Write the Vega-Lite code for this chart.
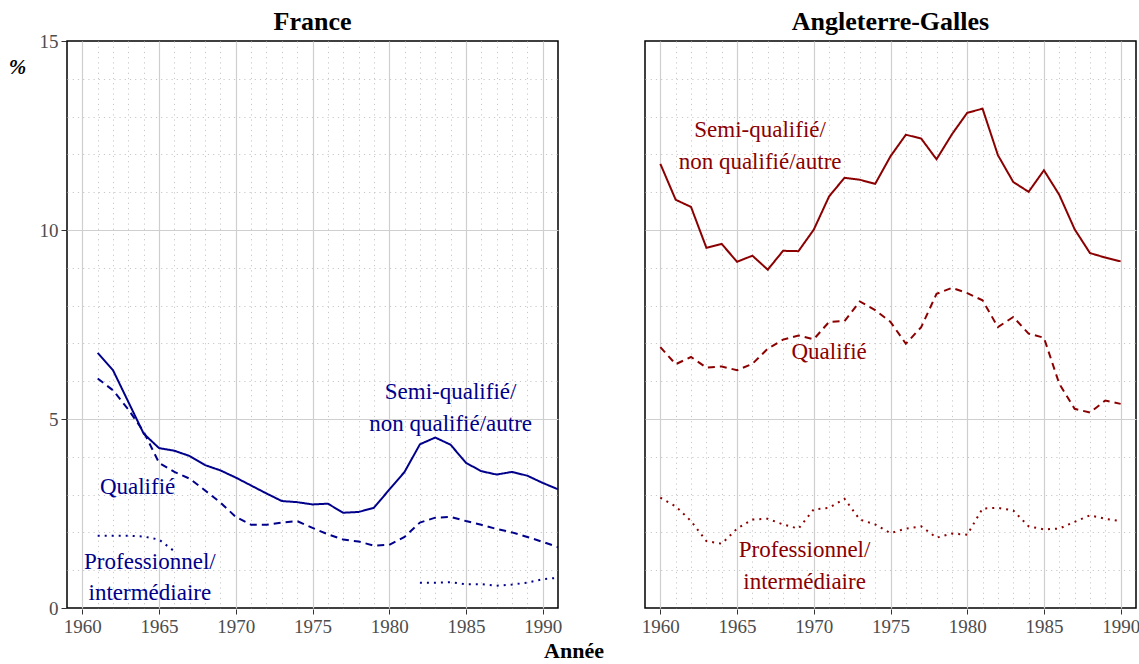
{
"$schema": "https://vega.github.io/schema/vega-lite/v6.json",
"background": "white",
"padding": {"left": 8, "top": 9, "right": 5, "bottom": 0},
"title": {"text": "Année", "orient": "bottom", "anchor": "middle", "fontSize": 22, "fontWeight": "bold", "font": "Liberation Serif", "color": "black", "offset": 5},
"data": {"values": [
{"p":"France","c":"S","g":"FS","x":1961,"y":6.75},{"p":"France","c":"S","g":"FS","x":1962,"y":6.29},{"p":"France","c":"S","g":"FS","x":1963,"y":5.45},{"p":"France","c":"S","g":"FS","x":1964,"y":4.61},{"p":"France","c":"S","g":"FS","x":1965,"y":4.23},{"p":"France","c":"S","g":"FS","x":1966,"y":4.16},{"p":"France","c":"S","g":"FS","x":1967,"y":4.02},{"p":"France","c":"S","g":"FS","x":1968,"y":3.78},{"p":"France","c":"S","g":"FS","x":1969,"y":3.64},{"p":"France","c":"S","g":"FS","x":1970,"y":3.45},{"p":"France","c":"S","g":"FS","x":1971,"y":3.24},{"p":"France","c":"S","g":"FS","x":1972,"y":3.03},{"p":"France","c":"S","g":"FS","x":1973,"y":2.83},{"p":"France","c":"S","g":"FS","x":1974,"y":2.80},{"p":"France","c":"S","g":"FS","x":1975,"y":2.74},{"p":"France","c":"S","g":"FS","x":1976,"y":2.76},{"p":"France","c":"S","g":"FS","x":1977,"y":2.52},{"p":"France","c":"S","g":"FS","x":1978,"y":2.54},{"p":"France","c":"S","g":"FS","x":1979,"y":2.65},{"p":"France","c":"S","g":"FS","x":1980,"y":3.13},{"p":"France","c":"S","g":"FS","x":1981,"y":3.60},{"p":"France","c":"S","g":"FS","x":1982,"y":4.33},{"p":"France","c":"S","g":"FS","x":1983,"y":4.51},{"p":"France","c":"S","g":"FS","x":1984,"y":4.32},{"p":"France","c":"S","g":"FS","x":1985,"y":3.84},{"p":"France","c":"S","g":"FS","x":1986,"y":3.62},{"p":"France","c":"S","g":"FS","x":1987,"y":3.53},{"p":"France","c":"S","g":"FS","x":1988,"y":3.60},{"p":"France","c":"S","g":"FS","x":1989,"y":3.50},{"p":"France","c":"S","g":"FS","x":1990,"y":3.31},{"p":"France","c":"S","g":"FS","x":1991,"y":3.14},
{"p":"France","c":"Q","g":"FQ","x":1961,"y":6.07},{"p":"France","c":"Q","g":"FQ","x":1962,"y":5.76},{"p":"France","c":"Q","g":"FQ","x":1963,"y":5.25},{"p":"France","c":"Q","g":"FQ","x":1964,"y":4.66},{"p":"France","c":"Q","g":"FQ","x":1965,"y":3.84},{"p":"France","c":"Q","g":"FQ","x":1966,"y":3.60},{"p":"France","c":"Q","g":"FQ","x":1967,"y":3.42},{"p":"France","c":"Q","g":"FQ","x":1968,"y":3.11},{"p":"France","c":"Q","g":"FQ","x":1969,"y":2.79},{"p":"France","c":"Q","g":"FQ","x":1970,"y":2.41},{"p":"France","c":"Q","g":"FQ","x":1971,"y":2.20},{"p":"France","c":"Q","g":"FQ","x":1972,"y":2.20},{"p":"France","c":"Q","g":"FQ","x":1973,"y":2.26},{"p":"France","c":"Q","g":"FQ","x":1974,"y":2.30},{"p":"France","c":"Q","g":"FQ","x":1975,"y":2.12},{"p":"France","c":"Q","g":"FQ","x":1976,"y":1.95},{"p":"France","c":"Q","g":"FQ","x":1977,"y":1.81},{"p":"France","c":"Q","g":"FQ","x":1978,"y":1.76},{"p":"France","c":"Q","g":"FQ","x":1979,"y":1.65},{"p":"France","c":"Q","g":"FQ","x":1980,"y":1.67},{"p":"France","c":"Q","g":"FQ","x":1981,"y":1.88},{"p":"France","c":"Q","g":"FQ","x":1982,"y":2.26},{"p":"France","c":"Q","g":"FQ","x":1983,"y":2.39},{"p":"France","c":"Q","g":"FQ","x":1984,"y":2.41},{"p":"France","c":"Q","g":"FQ","x":1985,"y":2.30},{"p":"France","c":"Q","g":"FQ","x":1986,"y":2.20},{"p":"France","c":"Q","g":"FQ","x":1987,"y":2.09},{"p":"France","c":"Q","g":"FQ","x":1988,"y":2.00},{"p":"France","c":"Q","g":"FQ","x":1989,"y":1.88},{"p":"France","c":"Q","g":"FQ","x":1990,"y":1.75},{"p":"France","c":"Q","g":"FQ","x":1991,"y":1.61},
{"p":"France","c":"P","g":"FP1","x":1961,"y":1.91},{"p":"France","c":"P","g":"FP1","x":1962,"y":1.91},{"p":"France","c":"P","g":"FP1","x":1963,"y":1.91},{"p":"France","c":"P","g":"FP1","x":1964,"y":1.89},{"p":"France","c":"P","g":"FP1","x":1965,"y":1.81},{"p":"France","c":"P","g":"FP1","x":1966,"y":1.50},
{"p":"France","c":"P","g":"FP2","x":1982,"y":0.67},{"p":"France","c":"P","g":"FP2","x":1983,"y":0.67},{"p":"France","c":"P","g":"FP2","x":1984,"y":0.68},{"p":"France","c":"P","g":"FP2","x":1985,"y":0.63},{"p":"France","c":"P","g":"FP2","x":1986,"y":0.63},{"p":"France","c":"P","g":"FP2","x":1987,"y":0.59},{"p":"France","c":"P","g":"FP2","x":1988,"y":0.62},{"p":"France","c":"P","g":"FP2","x":1989,"y":0.67},{"p":"France","c":"P","g":"FP2","x":1990,"y":0.76},{"p":"France","c":"P","g":"FP2","x":1991,"y":0.80},
{"p":"Angleterre-Galles","c":"S","g":"ES","x":1960,"y":11.75},{"p":"Angleterre-Galles","c":"S","g":"ES","x":1961,"y":10.80},{"p":"Angleterre-Galles","c":"S","g":"ES","x":1962,"y":10.61},{"p":"Angleterre-Galles","c":"S","g":"ES","x":1963,"y":9.53},{"p":"Angleterre-Galles","c":"S","g":"ES","x":1964,"y":9.63},{"p":"Angleterre-Galles","c":"S","g":"ES","x":1965,"y":9.16},{"p":"Angleterre-Galles","c":"S","g":"ES","x":1966,"y":9.32},{"p":"Angleterre-Galles","c":"S","g":"ES","x":1967,"y":8.95},{"p":"Angleterre-Galles","c":"S","g":"ES","x":1968,"y":9.45},{"p":"Angleterre-Galles","c":"S","g":"ES","x":1969,"y":9.44},{"p":"Angleterre-Galles","c":"S","g":"ES","x":1970,"y":10.01},{"p":"Angleterre-Galles","c":"S","g":"ES","x":1971,"y":10.89},{"p":"Angleterre-Galles","c":"S","g":"ES","x":1972,"y":11.38},{"p":"Angleterre-Galles","c":"S","g":"ES","x":1973,"y":11.33},{"p":"Angleterre-Galles","c":"S","g":"ES","x":1974,"y":11.22},{"p":"Angleterre-Galles","c":"S","g":"ES","x":1975,"y":11.95},{"p":"Angleterre-Galles","c":"S","g":"ES","x":1976,"y":12.52},{"p":"Angleterre-Galles","c":"S","g":"ES","x":1977,"y":12.42},{"p":"Angleterre-Galles","c":"S","g":"ES","x":1978,"y":11.87},{"p":"Angleterre-Galles","c":"S","g":"ES","x":1979,"y":12.53},{"p":"Angleterre-Galles","c":"S","g":"ES","x":1980,"y":13.10},{"p":"Angleterre-Galles","c":"S","g":"ES","x":1981,"y":13.21},{"p":"Angleterre-Galles","c":"S","g":"ES","x":1982,"y":11.98},{"p":"Angleterre-Galles","c":"S","g":"ES","x":1983,"y":11.27},{"p":"Angleterre-Galles","c":"S","g":"ES","x":1984,"y":11.01},{"p":"Angleterre-Galles","c":"S","g":"ES","x":1985,"y":11.58},{"p":"Angleterre-Galles","c":"S","g":"ES","x":1986,"y":10.93},{"p":"Angleterre-Galles","c":"S","g":"ES","x":1987,"y":10.02},{"p":"Angleterre-Galles","c":"S","g":"ES","x":1988,"y":9.39},{"p":"Angleterre-Galles","c":"S","g":"ES","x":1989,"y":9.27},{"p":"Angleterre-Galles","c":"S","g":"ES","x":1990,"y":9.17},
{"p":"Angleterre-Galles","c":"Q","g":"EQ","x":1960,"y":6.90},{"p":"Angleterre-Galles","c":"Q","g":"EQ","x":1961,"y":6.45},{"p":"Angleterre-Galles","c":"Q","g":"EQ","x":1962,"y":6.64},{"p":"Angleterre-Galles","c":"Q","g":"EQ","x":1963,"y":6.36},{"p":"Angleterre-Galles","c":"Q","g":"EQ","x":1964,"y":6.39},{"p":"Angleterre-Galles","c":"Q","g":"EQ","x":1965,"y":6.29},{"p":"Angleterre-Galles","c":"Q","g":"EQ","x":1966,"y":6.46},{"p":"Angleterre-Galles","c":"Q","g":"EQ","x":1967,"y":6.86},{"p":"Angleterre-Galles","c":"Q","g":"EQ","x":1968,"y":7.10},{"p":"Angleterre-Galles","c":"Q","g":"EQ","x":1969,"y":7.21},{"p":"Angleterre-Galles","c":"Q","g":"EQ","x":1970,"y":7.11},{"p":"Angleterre-Galles","c":"Q","g":"EQ","x":1971,"y":7.57},{"p":"Angleterre-Galles","c":"Q","g":"EQ","x":1972,"y":7.59},{"p":"Angleterre-Galles","c":"Q","g":"EQ","x":1973,"y":8.11},{"p":"Angleterre-Galles","c":"Q","g":"EQ","x":1974,"y":7.88},{"p":"Angleterre-Galles","c":"Q","g":"EQ","x":1975,"y":7.57},{"p":"Angleterre-Galles","c":"Q","g":"EQ","x":1976,"y":6.99},{"p":"Angleterre-Galles","c":"Q","g":"EQ","x":1977,"y":7.43},{"p":"Angleterre-Galles","c":"Q","g":"EQ","x":1978,"y":8.31},{"p":"Angleterre-Galles","c":"Q","g":"EQ","x":1979,"y":8.47},{"p":"Angleterre-Galles","c":"Q","g":"EQ","x":1980,"y":8.33},{"p":"Angleterre-Galles","c":"Q","g":"EQ","x":1981,"y":8.14},{"p":"Angleterre-Galles","c":"Q","g":"EQ","x":1982,"y":7.43},{"p":"Angleterre-Galles","c":"Q","g":"EQ","x":1983,"y":7.70},{"p":"Angleterre-Galles","c":"Q","g":"EQ","x":1984,"y":7.26},{"p":"Angleterre-Galles","c":"Q","g":"EQ","x":1985,"y":7.15},{"p":"Angleterre-Galles","c":"Q","g":"EQ","x":1986,"y":5.93},{"p":"Angleterre-Galles","c":"Q","g":"EQ","x":1987,"y":5.27},{"p":"Angleterre-Galles","c":"Q","g":"EQ","x":1988,"y":5.17},{"p":"Angleterre-Galles","c":"Q","g":"EQ","x":1989,"y":5.49},{"p":"Angleterre-Galles","c":"Q","g":"EQ","x":1990,"y":5.40},
{"p":"Angleterre-Galles","c":"P","g":"EP","x":1960,"y":2.92},{"p":"Angleterre-Galles","c":"P","g":"EP","x":1961,"y":2.69},{"p":"Angleterre-Galles","c":"P","g":"EP","x":1962,"y":2.30},{"p":"Angleterre-Galles","c":"P","g":"EP","x":1963,"y":1.77},{"p":"Angleterre-Galles","c":"P","g":"EP","x":1964,"y":1.70},{"p":"Angleterre-Galles","c":"P","g":"EP","x":1965,"y":2.10},{"p":"Angleterre-Galles","c":"P","g":"EP","x":1966,"y":2.34},{"p":"Angleterre-Galles","c":"P","g":"EP","x":1967,"y":2.36},{"p":"Angleterre-Galles","c":"P","g":"EP","x":1968,"y":2.21},{"p":"Angleterre-Galles","c":"P","g":"EP","x":1969,"y":2.10},{"p":"Angleterre-Galles","c":"P","g":"EP","x":1970,"y":2.61},{"p":"Angleterre-Galles","c":"P","g":"EP","x":1971,"y":2.65},{"p":"Angleterre-Galles","c":"P","g":"EP","x":1972,"y":2.89},{"p":"Angleterre-Galles","c":"P","g":"EP","x":1973,"y":2.34},{"p":"Angleterre-Galles","c":"P","g":"EP","x":1974,"y":2.21},{"p":"Angleterre-Galles","c":"P","g":"EP","x":1975,"y":1.98},{"p":"Angleterre-Galles","c":"P","g":"EP","x":1976,"y":2.10},{"p":"Angleterre-Galles","c":"P","g":"EP","x":1977,"y":2.16},{"p":"Angleterre-Galles","c":"P","g":"EP","x":1978,"y":1.86},{"p":"Angleterre-Galles","c":"P","g":"EP","x":1979,"y":1.97},{"p":"Angleterre-Galles","c":"P","g":"EP","x":1980,"y":1.94},{"p":"Angleterre-Galles","c":"P","g":"EP","x":1981,"y":2.63},{"p":"Angleterre-Galles","c":"P","g":"EP","x":1982,"y":2.65},{"p":"Angleterre-Galles","c":"P","g":"EP","x":1983,"y":2.58},{"p":"Angleterre-Galles","c":"P","g":"EP","x":1984,"y":2.16},{"p":"Angleterre-Galles","c":"P","g":"EP","x":1985,"y":2.08},{"p":"Angleterre-Galles","c":"P","g":"EP","x":1986,"y":2.10},{"p":"Angleterre-Galles","c":"P","g":"EP","x":1987,"y":2.28},{"p":"Angleterre-Galles","c":"P","g":"EP","x":1988,"y":2.45},{"p":"Angleterre-Galles","c":"P","g":"EP","x":1989,"y":2.36},{"p":"Angleterre-Galles","c":"P","g":"EP","x":1990,"y":2.30},
{"p":"France","x":1984,"y":5.71,"t":"Semi-qualifié/"},{"p":"France","x":1984,"y":4.87,"t":"non qualifié/autre"},{"p":"France","x":1963.6,"y":3.2,"t":"Qualifié"},{"p":"France","x":1964.4,"y":1.22,"t":"Professionnel/"},{"p":"France","x":1964.4,"y":0.4,"t":"intermédiaire"},
{"p":"Angleterre-Galles","x":1966.5,"y":12.65,"t":"Semi-qualifié/"},{"p":"Angleterre-Galles","x":1966.5,"y":11.8,"t":"non qualifié/autre"},{"p":"Angleterre-Galles","x":1971,"y":6.77,"t":"Qualifié"},{"p":"Angleterre-Galles","x":1969.4,"y":1.53,"t":"Professionnel/"},{"p":"Angleterre-Galles","x":1969.4,"y":0.69,"t":"intermédiaire"}
]},
"config": {
  "font": "Liberation Serif",
  "view": {"stroke": "black", "strokeWidth": 1.5},
  "axis": {"labelFont": "Liberation Serif", "labelFontSize": 19, "labelColor": "#4d4d4d", "titleFont": "Liberation Serif", "titleColor": "black", "titleFontWeight": "bold", "domain": false, "tickColor": "#333333", "tickSize": 5, "labelPadding": 3, "labelOverlap": false, "labelFlush": false},
  "header": {"labelFont": "Liberation Serif"}
},
"facet": {"column": {"field": "p", "type": "nominal", "sort": ["France", "Angleterre-Galles"], "title": null, "header": {"labelFontSize": 26, "labelFontWeight": "bold", "labelColor": "black", "labelPadding": 5}}},
"spacing": 85,
"spec": {
  "width": 491,
  "height": 567,
  "layer": [
    {"transform": [{"filter": "!datum.t"}],
     "mark": {"type": "line", "strokeWidth": 2, "strokeCap": "butt", "clip": true},
     "encoding": {
       "x": {"field": "x", "type": "quantitative", "title": null, "scale": {"domain": [1959, 1991], "nice": false, "zero": false},
         "axis": {"values": [1960,1961,1962,1963,1964,1965,1966,1967,1968,1969,1970,1971,1972,1973,1974,1975,1976,1977,1978,1979,1980,1981,1982,1983,1984,1985,1986,1987,1988,1989,1990], "tickCount": 200, "format": "d", "labelOverlap": false, "labelExpr": "datum.value % 5 === 0 ? datum.label : ''",
           "gridColor": {"condition": {"test": "datum.value % 5 === 0", "value": "#cfcfcf"}, "value": "#c8c8c8"},
           "gridDash": {"condition": {"test": "datum.value % 5 === 0", "value": []}, "value": [1.2, 4]},
           "gridWidth": {"condition": {"test": "datum.value % 5 === 0", "value": 1.2}, "value": 1},
           "tickOpacity": {"condition": {"test": "datum.value % 5 === 0", "value": 1}, "value": 0}}},
       "y": {"field": "y", "type": "quantitative", "title": "%", "scale": {"domain": [0, 15], "nice": false, "zero": true},
         "axis": {"values": [0,1,2,3,4,5,6,7,8,9,10,11,12,13,14,15], "tickCount": 200, "format": "d", "labelOverlap": false, "labelExpr": "datum.value % 5 === 0 ? datum.label : ''", "titleAngle": 0, "titleFontSize": 21, "titleFontStyle": "italic", "titleAlign": "center", "titleBaseline": "middle", "titleX": -49, "titleY": 26,
           "gridColor": {"condition": {"test": "datum.value % 5 === 0", "value": "#cfcfcf"}, "value": "#c8c8c8"},
           "gridDash": {"condition": {"test": "datum.value % 5 === 0", "value": []}, "value": [1.2, 4]},
           "gridWidth": {"condition": {"test": "datum.value % 5 === 0", "value": 1.2}, "value": 1},
           "gridOpacity": {"condition": {"test": "datum.value === 0 || datum.value === 15", "value": 0}, "value": 1},
           "tickOpacity": {"condition": {"test": "datum.value % 5 === 0", "value": 1}, "value": 0}}},
       "color": {"field": "p", "type": "nominal", "scale": {"domain": ["France", "Angleterre-Galles"], "range": ["#00008B", "#8B0000"]}, "legend": null},
       "strokeDash": {"field": "c", "type": "nominal", "scale": {"domain": ["S", "Q", "P"], "range": [[1, 0], [7, 5], [2, 5]]}, "legend": null},
       "detail": {"field": "g", "type": "nominal"}
     }},
    {"transform": [{"filter": "datum.t"}],
     "mark": {"type": "text", "fontSize": 23, "align": "center", "baseline": "middle", "font": "Liberation Serif"},
     "encoding": {
       "x": {"field": "x", "type": "quantitative"},
       "y": {"field": "y", "type": "quantitative"},
       "text": {"field": "t", "type": "nominal"},
       "color": {"field": "p", "type": "nominal", "legend": null}
     }}
  ]
}
}
